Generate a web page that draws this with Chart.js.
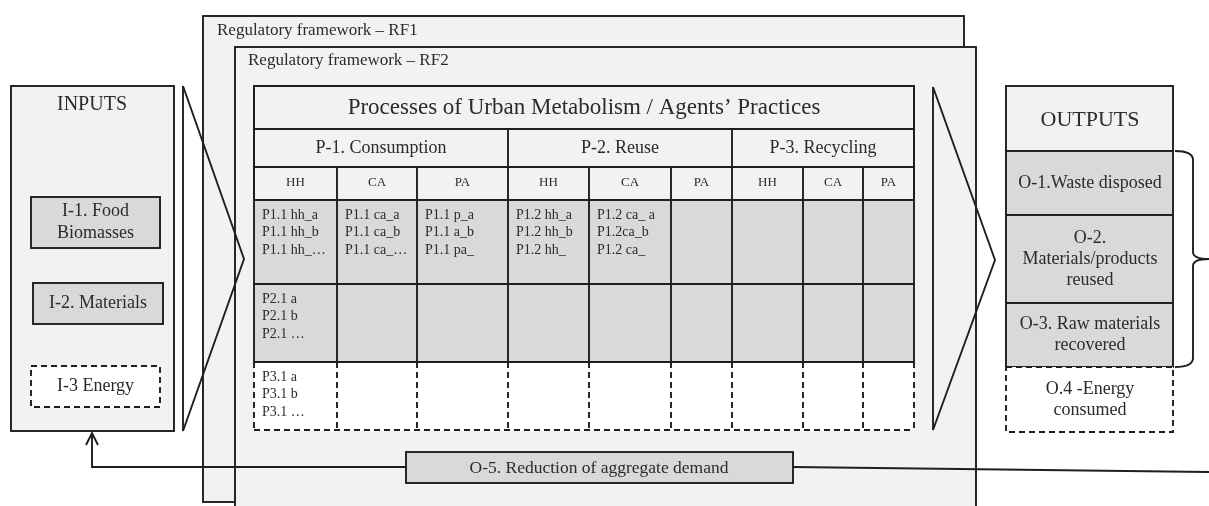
<!DOCTYPE html>
<html>
<head>
<meta charset="utf-8">
<script src="https://cdn.jsdelivr.net/npm/chart.js@4/dist/chart.umd.min.js"></script>
<style>
  html, body { margin: 0; padding: 0; background: #fff; }
  #wrap { width: 1209px; height: 506px; }
</style>
</head>
<body>
<div id="wrap"><canvas id="chart"></canvas></div>
<script>
// diagram content
const frameworks = ['Regulatory framework \u2013 RF1', 'Regulatory framework \u2013 RF2'];
const tableTitle = 'Processes of Urban Metabolism / Agents\u2019 Practices';
const processes = ['P-1. Consumption', 'P-2. Reuse', 'P-3. Recycling'];
const agents = ['HH', 'CA', 'PA'];
const practicesRow1 = [
    ['P1.1 hh_a', 'P1.1 hh_b', 'P1.1 hh_\u2026'],
    ['P1.1 ca_a', 'P1.1 ca_b', 'P1.1 ca_\u2026'],
    ['P1.1 p_a', 'P1.1 a_b', 'P1.1 pa_'],
    ['P1.2 hh_a', 'P1.2 hh_b', 'P1.2 hh_'],
    ['P1.2 ca_ a', 'P1.2ca_b', 'P1.2 ca_'],
    [], [], [], []
];
const practicesRow2 = [['P2.1 a', 'P2.1 b', 'P2.1 \u2026'], [], [], [], [], [], [], [], []];
const practicesRow3 = [['P3.1 a', 'P3.1 b', 'P3.1 \u2026'], [], [], [], [], [], [], [], []];
const inputsTitle = 'INPUTS';
const inputs = [['I-1. Food', 'Biomasses'], ['I-2. Materials'], ['I-3 Energy']];
const outputsTitle = 'OUTPUTS';
const outputs = [
    ['O-1.Waste disposed'],
    ['O-2.', 'Materials/products', 'reused'],
    ['O-3. Raw materials', 'recovered'],
    ['O.4 -Energy', 'consumed']
];
const feedback = 'O-5. Reduction of aggregate demand';

// layout (diagram units = pixels of the original figure)
const W = 1209, H = 506;
const colX = [254, 337, 417, 508, 589, 671, 732, 803, 863, 914];
const rowY = [86, 129, 167, 200, 284, 362, 430];
const inputBoxes = [[31, 197, 160, 248], [33, 283, 163, 324], [31, 366, 160, 407]];
const outputRows = [151, 215, 303, 367, 432];

const LINE = '#1e1e1e';
const TEXT = '#2b2b2b';
const LIGHT = '#f2f2f2';
const GRAY = '#d9d9d9';
const LW = 1.9;
const FONT = '"Liberation Serif", "Times New Roman", serif';

const diagramPlugin = {
    id: 'diagram',
    afterDraw(chart) {
        const ctx = chart.ctx;
        const sx = chart.scales.x, sy = chart.scales.y;
        const px = v => sx.getPixelForValue(v);
        const py = v => sy.getPixelForValue(v);

        const rect = (x1, y1, x2, y2, fill, dashed) => {
            ctx.save();
            if (fill) {
                ctx.fillStyle = fill;
                ctx.fillRect(px(x1), py(y1), px(x2) - px(x1), py(y2) - py(y1));
            }
            ctx.strokeStyle = LINE;
            ctx.lineWidth = LW;
            if (dashed) ctx.setLineDash([6, 4]);
            ctx.strokeRect(px(x1), py(y1), px(x2) - px(x1), py(y2) - py(y1));
            ctx.restore();
        };
        const line = (pts, dashed, width) => {
            ctx.save();
            ctx.strokeStyle = LINE;
            ctx.lineWidth = width || LW;
            if (dashed) ctx.setLineDash([6, 4]);
            ctx.beginPath();
            pts.forEach((p, i) => i ? ctx.lineTo(px(p[0]), py(p[1])) : ctx.moveTo(px(p[0]), py(p[1])));
            ctx.stroke();
            ctx.restore();
        };
        const text = (str, x, y, size, align) => {
            ctx.save();
            ctx.fillStyle = TEXT;
            ctx.font = size + 'px ' + FONT;
            ctx.textAlign = align || 'center';
            ctx.textBaseline = 'middle';
            ctx.fillText(str, px(x), py(y));
            ctx.restore();
        };
        const lines = (arr, cx, cy, size, gap) => {
            const top = cy - (arr.length - 1) * gap / 2;
            arr.forEach((s, i) => text(s, cx, top + i * gap, size));
        };

        // regulatory frameworks
        rect(203, 16, 964, 502, LIGHT);
        text(frameworks[0], 217, 31, 17, 'left');
        rect(235, 47, 976, 512, LIGHT);
        text(frameworks[1], 248, 61, 17, 'left');

        // process table
        const left = colX[0], right = colX[colX.length - 1];
        rect(left, rowY[0], right, rowY[3], LIGHT);
        ctx.save();
        ctx.fillStyle = GRAY;
        ctx.fillRect(px(left), py(rowY[3]), px(right) - px(left), py(rowY[5]) - py(rowY[3]));
        ctx.fillStyle = '#fff';
        ctx.fillRect(px(left), py(rowY[5]), px(right) - px(left), py(rowY[6]) - py(rowY[5]));
        ctx.restore();
        text(tableTitle, (left + right) / 2, 108, 23);

        // horizontal rules
        [0, 1, 2, 3, 4, 5].forEach(r => line([[left, rowY[r]], [right, rowY[r]]]));
        line([[left, rowY[6]], [right, rowY[6]]], true);
        // outer verticals
        line([[left, rowY[0]], [left, rowY[5]]]);
        line([[right, rowY[0]], [right, rowY[5]]]);
        line([[left, rowY[5]], [left, rowY[6]]], true);
        line([[right, rowY[5]], [right, rowY[6]]], true);
        // process group separators and agent columns
        for (let c = 1; c < colX.length - 1; c++) {
            const top = c % 3 === 0 ? rowY[1] : rowY[2];
            line([[colX[c], top], [colX[c], rowY[5]]]);
            line([[colX[c], rowY[5]], [colX[c], rowY[6]]], true);
        }
        processes.forEach((p, i) => {
            text(p, (colX[i * 3] + colX[i * 3 + 3]) / 2, 148, 18);
            agents.forEach((a, j) => {
                const c = i * 3 + j;
                text(a, (colX[c] + colX[c + 1]) / 2, 183, 13);
            });
        });
        [[practicesRow1, 215], [practicesRow2, 299], [practicesRow3, 377]].forEach(([row, y0]) => {
            row.forEach((cell, c) => {
                cell.forEach((s, k) => text(s, colX[c] + 8, y0 + k * 17.5, 14, 'left'));
            });
        });

        // chevrons
        line([[183, 86], [183, 431]]);
        line([[183, 86], [244, 259], [183, 431]]);
        line([[933, 87], [933, 430]]);
        line([[933, 87], [995, 260], [933, 430]]);

        // inputs
        rect(11, 86, 174, 431, LIGHT);
        text(inputsTitle, 92, 105, 20);
        inputBoxes.forEach((b, i) => {
            const dashed = i === inputBoxes.length - 1;
            rect(b[0], b[1], b[2], b[3], dashed ? '#fff' : GRAY, dashed);
            lines(inputs[i], (b[0] + b[2]) / 2, (b[1] + b[3]) / 2, 18, 22);
        });

        // outputs
        rect(1006, 86, 1173, outputRows[0], LIGHT);
        text(outputsTitle, 1090, 120, 22);
        outputs.forEach((o, i) => {
            const dashed = i === outputs.length - 1;
            rect(1006, outputRows[i], 1173, outputRows[i + 1], dashed ? '#fff' : GRAY, dashed);
            lines(o, 1090, (outputRows[i] + outputRows[i + 1]) / 2, 18, 21);
        });

        // brace
        ctx.save();
        ctx.strokeStyle = LINE;
        ctx.lineWidth = LW;
        ctx.beginPath();
        ctx.moveTo(px(1175), py(151));
        ctx.quadraticCurveTo(px(1193), py(151), px(1193), py(160));
        ctx.lineTo(px(1193), py(252));
        ctx.quadraticCurveTo(px(1193), py(259), px(1209), py(259));
        ctx.moveTo(px(1209), py(259));
        ctx.quadraticCurveTo(px(1193), py(259), px(1193), py(266));
        ctx.lineTo(px(1193), py(358));
        ctx.quadraticCurveTo(px(1193), py(367), px(1175), py(367));
        ctx.stroke();
        ctx.restore();

        // feedback loop
        line([[406, 467], [92, 467], [92, 433]]);
        line([[86, 445], [92, 433], [98, 445]]);
        line([[793, 467], [1209, 472]]);
        rect(406, 452, 793, 483, GRAY);
        text(feedback, 599, 468, 17.5);
    }
};

new Chart(document.getElementById('chart'), {
    type: 'scatter',
    data: { datasets: [] },
    options: {
        responsive: true,
        maintainAspectRatio: false,
        animation: false,
        layout: { padding: 0 },
        plugins: { legend: { display: false }, tooltip: { enabled: false } },
        scales: {
            x: { type: 'linear', min: 0, max: W, display: false },
            y: { type: 'linear', min: 0, max: H, reverse: true, display: false }
        }
    },
    plugins: [diagramPlugin]
});
</script>
</body>
</html>
